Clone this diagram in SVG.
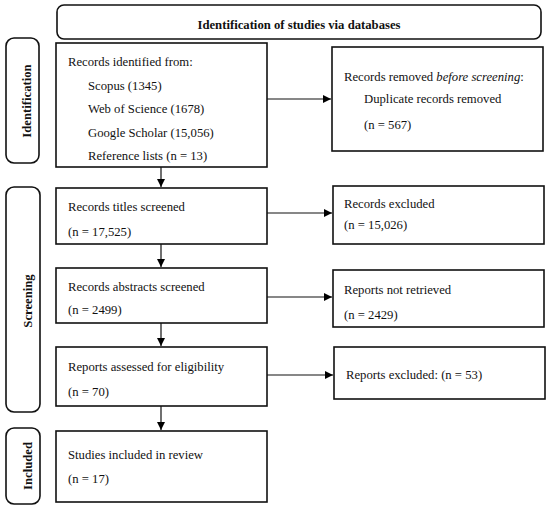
<svg xmlns="http://www.w3.org/2000/svg" width="550" height="507" viewBox="0 0 550 507">
<defs>
<marker id="ah" viewBox="0 0 10 10" refX="10" refY="5" markerWidth="8" markerHeight="8" markerUnits="userSpaceOnUse" orient="auto">
<path d="M0,0 L10,5 L0,10 z" fill="#000"/>
</marker>
<style>
.box{fill:#fff;stroke:#111;stroke-width:1.6}
.t{font-family:"Liberation Serif","Times New Roman",serif;font-size:12.7px;fill:#111}
.b{font-family:"Liberation Serif","Times New Roman",serif;font-size:12.7px;font-weight:bold;fill:#111}
.c{stroke:#111;stroke-width:1.2;fill:none;marker-end:url(#ah)}
</style>
</defs>
<rect width="550" height="507" fill="#fff"/>
<g id="header">
<rect class="box" x="57" y="5" width="484" height="34" rx="7"/>
<text class="b" x="299" y="29" text-anchor="middle">Identification of studies via databases</text>
</g>
<g id="label-identification">
<rect class="box" x="6" y="38" width="33" height="125" rx="8"/>
<text class="b" transform="translate(31,101) rotate(-90)" text-anchor="middle">Identification</text>
</g>
<g id="label-screening">
<rect class="box" x="6" y="187" width="34" height="225" rx="8"/>
<text class="b" transform="translate(32,301) rotate(-90)" text-anchor="middle">Screening</text>
</g>
<g id="label-included">
<rect class="box" x="6" y="428" width="34" height="76" rx="8"/>
<text class="b" transform="translate(32,466) rotate(-90)" text-anchor="middle">Included</text>
</g>
<g id="records-identified">
<rect class="box" x="56" y="43" width="211" height="124"/>
<text class="t" x="68" y="66">Records identified from:</text>
<text class="t" x="88" y="90">Scopus (1345)</text>
<text class="t" x="88" y="113">Web of Science (1678)</text>
<text class="t" x="88" y="137">Google Scholar (15,056)</text>
<text class="t" x="88" y="160">Reference lists (n = 13)</text>
</g>
<g id="records-removed">
<rect class="box" x="332" y="47" width="211" height="104"/>
<text class="t" x="344" y="81">Records removed <tspan font-style="italic">before screening</tspan>:</text>
<text class="t" x="364" y="103">Duplicate records removed</text>
<text class="t" x="364" y="129">(n = 567)</text>
</g>
<g id="titles-screened">
<rect class="box" x="56" y="188" width="211" height="56"/>
<text class="t" x="68" y="211">Records titles screened</text>
<text class="t" x="68" y="236">(n = 17,525)</text>
</g>
<g id="records-excluded">
<rect class="box" x="333" y="186" width="211" height="58"/>
<text class="t" x="344" y="208">Records excluded</text>
<text class="t" x="344" y="229">(n = 15,026)</text>
</g>
<g id="abstracts-screened">
<rect class="box" x="56" y="268" width="211" height="55"/>
<text class="t" x="68" y="291">Records abstracts screened</text>
<text class="t" x="68" y="314">(n = 2499)</text>
</g>
<g id="reports-not-retrieved">
<rect class="box" x="333" y="270" width="211" height="57"/>
<text class="t" x="344" y="294">Reports not retrieved</text>
<text class="t" x="344" y="319">(n = 2429)</text>
</g>
<g id="reports-assessed">
<rect class="box" x="56" y="347" width="211" height="59"/>
<text class="t" x="68" y="371">Reports assessed for eligibility</text>
<text class="t" x="68" y="396">(n = 70)</text>
</g>
<g id="reports-excluded">
<rect class="box" x="334" y="347" width="211" height="52"/>
<text class="t" x="346" y="379">Reports excluded: (n = 53)</text>
</g>
<g id="studies-included">
<rect class="box" x="56" y="431" width="211" height="71"/>
<text class="t" x="68" y="459">Studies included in review</text>
<text class="t" x="68" y="483">(n = 17)</text>
</g>
<g id="connectors">
<line class="c" x1="267" y1="99" x2="331" y2="99"/>
<line class="c" x1="161" y1="167" x2="161" y2="187"/>
<line class="c" x1="267" y1="213" x2="332" y2="213"/>
<line class="c" x1="161" y1="244" x2="161" y2="267"/>
<line class="c" x1="267" y1="297" x2="332" y2="297"/>
<line class="c" x1="161" y1="323" x2="161" y2="346"/>
<line class="c" x1="267" y1="375" x2="333" y2="375"/>
<line class="c" x1="161" y1="406" x2="161" y2="430"/>
</g>
</svg>
